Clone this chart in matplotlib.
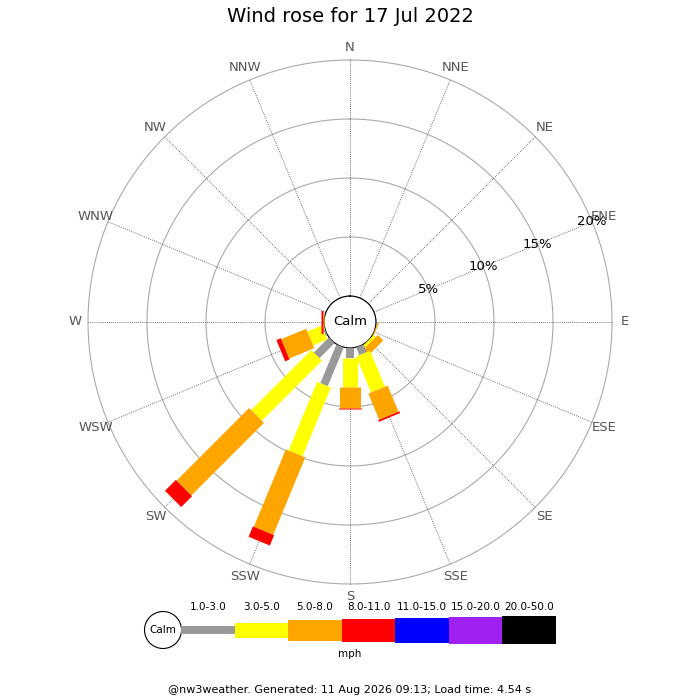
import numpy as np
import matplotlib
matplotlib.use('Agg')
import matplotlib.pyplot as plt
from matplotlib.patches import Circle, Rectangle

# Wind rose data (% of time) per direction and speed class
directions = ['N', 'NNE', 'NE', 'ENE', 'E', 'ESE', 'SE', 'SSE',
              'S', 'SSW', 'SW', 'WSW', 'W', 'WNW', 'NW', 'NNW']
speed_classes = ['1.0-3.0', '3.0-5.0', '5.0-8.0', '8.0-11.0',
                 '11.0-15.0', '15.0-20.0', '20.0-50.0']
#              N   NNE  NE  ENE  E    ESE   SE    SSE   S     SSW   SW   WSW   W     WNW NW  NNW
spd_1_3   = [0,  0,   0,  0,   0,   0,    0,    0.7,  0.85, 3.55, 1.8, 0.15, 0,    0,  0,  0]
spd_3_5   = [0,  0,   0,  0,   0,   0,    0.25, 3.3,  2.5,  6.3,  7.2, 1.3,  0.07, 0,  0,  0]
spd_5_8   = [0,  0,   0,  0,   0,   0.1,  0.65, 2.4,  1.7,  7.1,  8.7, 2.3,  0.04, 0,  0,  0]
spd_8_11  = [0,  0,   0,  0,   0,   0,    0,    0.15, 0.15, 0.95, 1.3, 0.4,  0.17, 0,  0,  0]
spd_11_15 = [0] * 16
spd_15_20 = [0] * 16
spd_20_50 = [0] * 16
rings = [5, 10, 15, 20]

series = [spd_1_3, spd_3_5, spd_5_8, spd_8_11, spd_11_15, spd_15_20, spd_20_50]
colors = ['#999999', '#ffff00', '#ffa500', '#ff0000', '#0000ff', '#a020f0', '#000000']
bar_px = [8, 15, 21, 23, 25, 27, 28]

fig = plt.figure(figsize=(7, 7), dpi=100)

# polar axes: centre at (350, 322) px, outer ring radius 262 px
R = 262 / 700
cy = 1 - 322 / 700
ax = fig.add_axes([0.5 - R, cy - R, 2 * R, 2 * R], projection='polar')
ax.set_theta_zero_location('N')
ax.set_theta_direction(-1)
ax.set_ylim(0, 20)
ax.set_rorigin(-2.2)
ax.grid(False)
ax.set_xticks([])
ax.set_yticks([])
for s in ax.spines.values():
    s.set_visible(False)
ax.patch.set_alpha(0)

thetas = np.deg2rad(np.arange(16) * 22.5)
full = np.linspace(0, 2 * np.pi, 361)

# rings and spokes
for r in rings:
    ax.plot(full, np.full_like(full, r), color='#aaaaaa', lw=0.8, clip_on=False, zorder=1)
ax.plot(full, np.zeros_like(full), color='#aaaaaa', lw=0.8, clip_on=False, zorder=1)
for th in thetas:
    ax.plot([th, th], [0, 20], color='#444444', lw=0.6, ls=(0, (1, 1.5)), clip_on=False, zorder=1)

# stacked bars (constant pixel width per class)
for i, th in enumerate(thetas):
    base = 0
    for vals, col, w in zip(series, colors, bar_px):
        v = vals[i]
        if v > 0:
            ax.plot([th, th], [base, base + v], color=col, lw=w * 72 / 100,
                    solid_capstyle='butt', clip_on=False, zorder=3)
        base += v

# direction labels
for th, d in zip(thetas, directions):
    ax.text(th, 21.1, d, ha='center', va='center', color='#555555', fontsize=9.5)

# ring labels along ENE
for r in rings:
    ax.text(np.deg2rad(67.5), r, f'{r}%', ha='center', va='center', color='black',
            fontsize=9.5, zorder=4)

ax.text(0.5, 0.5, 'Calm', transform=ax.transAxes, ha='center', va='center', fontsize=9.5)

# legend and texts in pixel coordinates
lg = fig.add_axes([0, 0, 1, 1])
lg.set_xlim(0, 700)
lg.set_ylim(700, 0)
lg.axis('off')
lg.patch.set_alpha(0)

lg.text(350, 17, 'Wind rose for 17 Jul 2022', ha='center', va='center', fontsize=14)
lg.add_patch(Circle((163, 630), 18.5, fc='white', ec='black', lw=0.8))
lg.text(163, 630, 'Calm', ha='center', va='center', fontsize=7.5)
seg = (556 - 181) / len(speed_classes)
for k, (lab, col, w) in enumerate(zip(speed_classes, colors, bar_px)):
    x0 = 181 + k * seg
    lg.add_patch(Rectangle((x0, 630 - w / 2), seg, w, fc=col, ec='none'))
    lg.text(x0 + seg / 2, 607, lab, ha='center', va='center', fontsize=7.5)
lg.text(350, 654, 'mph', ha='center', va='center', fontsize=7.5)
lg.text(350, 690, '@nw3weather. Generated: 11 Aug 2026 09:13; Load time: 4.54 s',
        ha='center', va='center', fontsize=8)

fig.savefig('out.png', dpi=100)
